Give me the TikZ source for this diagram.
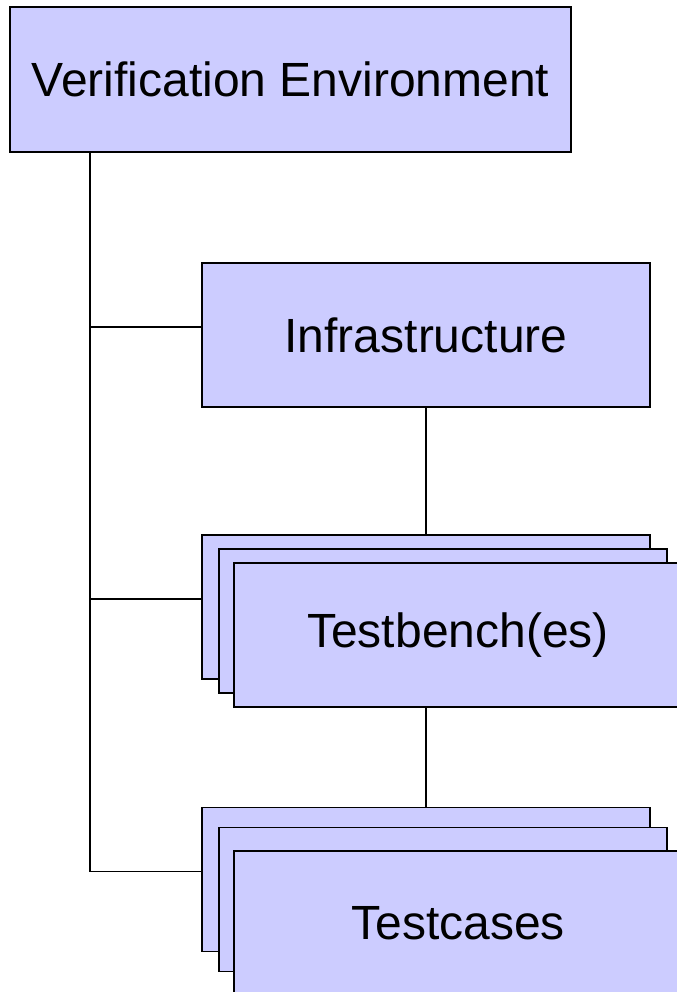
\documentclass[tikz,border=0pt]{standalone}
\usepackage{fontspec}
\setmainfont{Liberation Sans}
\tikzset{box/.style={draw=black,fill=blue!20,line width=1.2bp,minimum width=448bp,minimum height=144bp,inner sep=0pt,font=\fontsize{48bp}{56bp}\selectfont},
link/.style={line width=1.2bp}}
\begin{document}
\begin{tikzpicture}[x=1bp,y=-1bp]
\useasboundingbox (0,0) rectangle (677,992);

\node [box,minimum width=561bp,minimum height=145bp] (env) at (290.5,79.5) {Verification Environment};
\node [box] (infra) at (426,335) {Infrastructure};

\node [box] (tb1) at (426,607) {};
\node [box] (tb2) at (443,621) {};
\node [box] (tb3) at (458,635) {Testbench(es)};

\node [box] (tc1) at (426,879.5) {};
\node [box] (tc2) at (443,899.5) {};
\node [box] (tc3) at (458,923) {Testcases};

\coordinate (trunk) at (90,152);
\draw [link](trunk) |- ([yshift=8bp]infra.west);
\draw [link](trunk) |- ([yshift=8bp]tb1.west);
\draw [link](trunk) |- ([yshift=8bp]tc1.west);
\draw [link](infra.south)--(tb1.north);
\draw [link](tc1.north |- tb3.south)--(tc1.north);

\end{tikzpicture}
\end{document}
